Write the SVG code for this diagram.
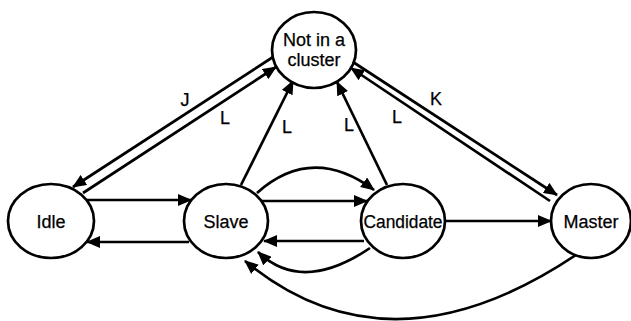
<svg xmlns="http://www.w3.org/2000/svg" width="631" height="321" viewBox="0 0 631 321">
<style>
.node{fill:#fff;stroke:#000;stroke-width:2.7}
.t{font-family:"Liberation Sans",Arial,sans-serif;font-size:18px;fill:#000;stroke:#000;stroke-width:0.25;text-anchor:middle}
.c{fill:none;stroke:#000;stroke-width:2.7}
</style>
<defs>
<marker id="ah" markerUnits="userSpaceOnUse" markerWidth="15" markerHeight="12" refX="13" refY="6" orient="auto">
<path d="M0,0 L14,6 L0,12 z" fill="#000"/>
</marker>
</defs>
<rect width="631" height="321" fill="#fff"/>
<g id="connectors">
<path class="c" d="M273,57 L73,187" marker-end="url(#ah)"/>
<path class="c" d="M83,193 L276,67" marker-end="url(#ah)"/>
<path class="c" d="M241,185 L293,81" marker-end="url(#ah)"/>
<path class="c" d="M387,185 L337,82" marker-end="url(#ah)"/>
<path class="c" d="M353,62 L557,195" marker-end="url(#ah)"/>
<path class="c" d="M550,201 L351,68" marker-end="url(#ah)"/>
<path class="c" d="M87,200 L191,200" marker-end="url(#ah)"/>
<path class="c" d="M189,242 L87,242" marker-end="url(#ah)"/>
<path class="c" d="M262,201 L367,201" marker-end="url(#ah)"/>
<path class="c" d="M364,241 L264,241" marker-end="url(#ah)"/>
<path class="c" d="M445,221 L551,221" marker-end="url(#ah)"/>
<path class="c" d="M257,193 Q312,144 374,190" marker-end="url(#ah)"/>
<path class="c" d="M370,248 Q302,294 258,252" marker-end="url(#ah)"/>
<path class="c" d="M576,255 Q389,380 245,261" marker-end="url(#ah)"/>
<text class="t" x="185" y="106">J</text>
<text class="t" x="225" y="124">L</text>
<text class="t" x="287" y="133">L</text>
<text class="t" x="349" y="131">L</text>
<text class="t" x="397" y="123">L</text>
<text class="t" x="436" y="105">K</text>
</g>
<g id="notin">
<ellipse class="node" cx="314" cy="50" rx="42" ry="38"/>
<text class="t" x="314" y="46">Not in a</text>
<text class="t" x="314" y="66">cluster</text>
</g>
<g id="idle">
<ellipse class="node" cx="51" cy="221" rx="43" ry="37"/>
<text class="t" x="51" y="227.5">Idle</text>
</g>
<g id="slave">
<ellipse class="node" cx="226" cy="221" rx="42" ry="37"/>
<text class="t" x="226" y="227.5">Slave</text>
</g>
<g id="candidate">
<ellipse class="node" cx="403" cy="221" rx="42" ry="37"/>
<text class="t" x="403" y="227.5" textLength="79" lengthAdjust="spacingAndGlyphs">Candidate</text>
</g>
<g id="master">
<ellipse class="node" cx="591" cy="221" rx="40" ry="37"/>
<text class="t" x="591" y="227.5">Master</text>
</g>
</svg>
